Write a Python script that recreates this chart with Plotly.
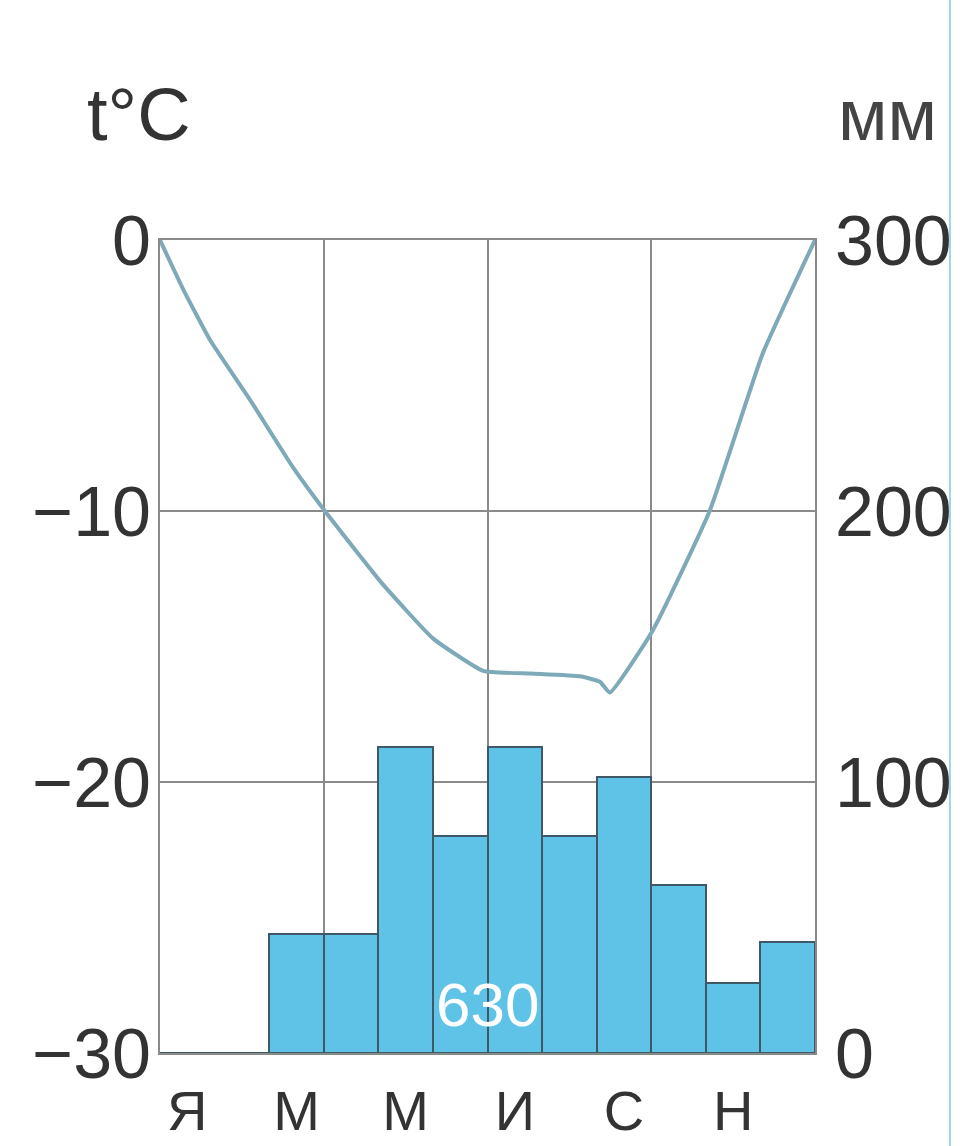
import plotly.graph_objects as go

# ---- data ----
months = ["Я", "Ф", "М", "А", "М", "И", "И", "А", "С", "О", "Н", "Д"]
precip_mm = [0, 0, 44, 44, 113, 80, 113, 80, 102, 62, 26, 41]
precip_total = "630"

# temperature curve traced along the year (position in months, °C)
temp_pos = [0.0, 0.42, 0.92, 1.65, 2.44, 3.02, 4.08, 5.0, 5.92, 6.8, 7.69, 8.06, 8.24, 9.03, 10.07, 11.04, 12.0]
temp_c = [0.0, -1.8, -3.7, -5.9, -8.4, -10.0, -12.7, -14.7, -15.9, -16.0, -16.1, -16.3, -16.7, -14.4, -10.0, -4.2, 0.0]

label_months_idx = [0, 2, 4, 6, 8, 10]
temp_ticks = [-30, -20, -10, 0]
temp_tick_text = ["−30", "−20", "−10", "0"]
precip_ticks = [0, 100, 200, 300]

FONT = "Liberation Sans"
GRID = "#8a8a8a"
TXT = "#333333"

bar_x = [i + 0.5 for i in range(len(months))]

fig = go.Figure()
fig.add_trace(go.Bar(
    x=bar_x, y=precip_mm, width=1.0, yaxis="y2",
    marker=dict(color="#5fc3e8", line=dict(color="#3e5866", width=2)),
    showlegend=False,
))
fig.add_trace(go.Scatter(
    x=temp_pos, y=temp_c, mode="lines", yaxis="y",
    line=dict(color="#7ea9b8", width=4, shape="spline", smoothing=0.4),
    showlegend=False,
))

fig.add_annotation(
    x=6.0, y=18, xref="x", yref="y2", text=precip_total, showarrow=False,
    font=dict(family=FONT, size=62, color="white"),
)
fig.add_annotation(x=-0.032, y=1.154, xref="paper", yref="paper", text="t°C", showarrow=False,
                   xanchor="center", yanchor="middle", font=dict(family=FONT, size=74, color=TXT))
fig.add_annotation(x=1.111, y=1.154, xref="paper", yref="paper", text="мм", showarrow=False,
                   xanchor="center", yanchor="middle", font=dict(family=FONT, size=72, color="#444"))

fig.add_shape(type="line", xref="paper", yref="paper", x0=1.206, x1=1.206, y0=-0.12, y1=1.3,
              line=dict(color="#9fd3ea", width=2))

fig.update_layout(
    width=964, height=1146,
    margin=dict(l=160, r=149, t=240, b=93),
    paper_bgcolor="white", plot_bgcolor="white",
    bargap=0,
    xaxis=dict(
        range=[0, 12], tickvals=[bar_x[i] for i in label_months_idx],
        ticktext=[months[i] for i in label_months_idx],
        showgrid=False, zeroline=False, ticks="", automargin=False,
        showline=True, linecolor=GRID, linewidth=2, mirror=True,
        tickfont=dict(family=FONT, size=56, color=TXT),
        ticklabelstandoff=8,
        minor=dict(tickvals=[3, 6, 9], showgrid=True, gridcolor=GRID, gridwidth=2),
    ),
    yaxis=dict(
        range=[-30, 0], tickvals=temp_ticks, ticktext=temp_tick_text,
        showgrid=True, gridcolor=GRID, gridwidth=2, zeroline=False, ticks="", automargin=False,
        showline=True, linecolor=GRID, linewidth=2,
        tickfont=dict(family=FONT, size=70, color=TXT),
        ticklabelstandoff=-7,
    ),
    yaxis2=dict(
        range=[0, 300], tickvals=precip_ticks, overlaying="y", side="right",
        showgrid=False, zeroline=False, ticks="", automargin=False,
        showline=True, linecolor=GRID, linewidth=2,
        tickfont=dict(family=FONT, size=70, color=TXT),
        ticklabelstandoff=4,
    ),
)

fig.write_html("out.html", config={"displayModeBar": False},
               post_script="document.body.style.margin='0';")
